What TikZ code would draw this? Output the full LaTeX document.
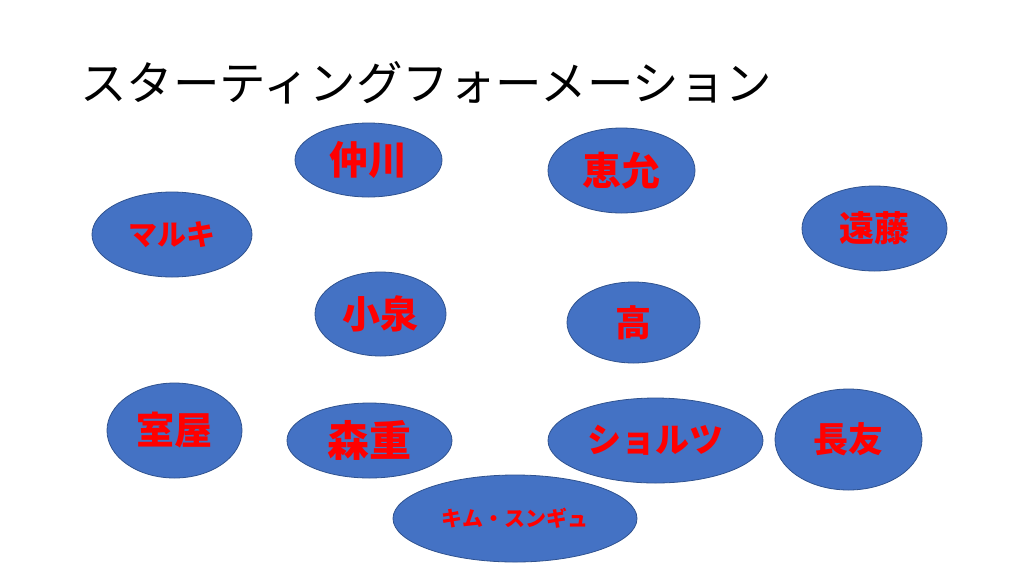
\documentclass[tikz,border=0pt]{standalone}
\usepackage{fontspec}
\usetikzlibrary{shapes.geometric}
\newfontfamily\jpfont{Noto Sans CJK JP}
\definecolor{pfill}{HTML}{4472C4}
\definecolor{pline}{HTML}{2F528F}
\definecolor{ptext}{HTML}{FF0000}
\tikzset{
  player/.style={ellipse, draw=pline, fill=pfill, line width=0.8pt, inner sep=0pt,
    text=ptext, font=\jpfont\bfseries},
}
\newcommand{\fsz}[1]{\fontsize{#1}{#1}\selectfont}
\begin{document}
\begin{tikzpicture}[x=1pt,y=-1pt]
\useasboundingbox[fill=white] (0,0) rectangle (1024,576);
\node[anchor=west, inner sep=0pt, font=\jpfont\fsz{46.5}] (title) at (80,83) {スターティングフォーメーション};
\node[player, minimum width=147pt, minimum height=74pt, font=\jpfont\bfseries\fsz{39}] (nakagawa) at (368.5,160) {仲川};
\node[player, minimum width=147pt, minimum height=85pt, font=\jpfont\bfseries\fsz{39}] (keiin) at (621.5,170.5) {恵允};
\node[player, minimum width=160pt, minimum height=85pt, font=\jpfont\bfseries\fsz{29}] (maruki) at (172,234.5) {マルキ};
\node[player, minimum width=145pt, minimum height=85pt, font=\jpfont\bfseries\fsz{35}] (endo) at (874.5,228.5) {遠藤};
\node[player, minimum width=131pt, minimum height=84pt, font=\jpfont\bfseries\fsz{38}] (koizumi) at (380.5,314) {小泉};
\node[player, minimum width=133pt, minimum height=81pt, font=\jpfont\bfseries\fsz{36}] (ko) at (633.5,322.5) {高};
\node[player, minimum width=135pt, minimum height=95pt, font=\jpfont\bfseries\fsz{38}] (muroya) at (174.5,430.5) {室屋};
\node[player, minimum width=165pt, minimum height=75pt, font=\jpfont\bfseries\fsz{42}] (morishige) at (369.5,440.5) {森重};
\node[player, minimum width=215pt, minimum height=85pt, font=\jpfont\bfseries\fsz{34}] (scholz) at (655.5,440.5) {ショルツ};
\node[player, minimum width=147pt, minimum height=101pt, font=\jpfont\bfseries\fsz{35}] (nagatomo) at (848.5,439.5) {長友};
\node[player, minimum width=244pt, minimum height=87pt, font=\jpfont\bfseries\fsz{21}] (kim) at (515,518.5) {キム・スンギュ};
\end{tikzpicture}
\end{document}
